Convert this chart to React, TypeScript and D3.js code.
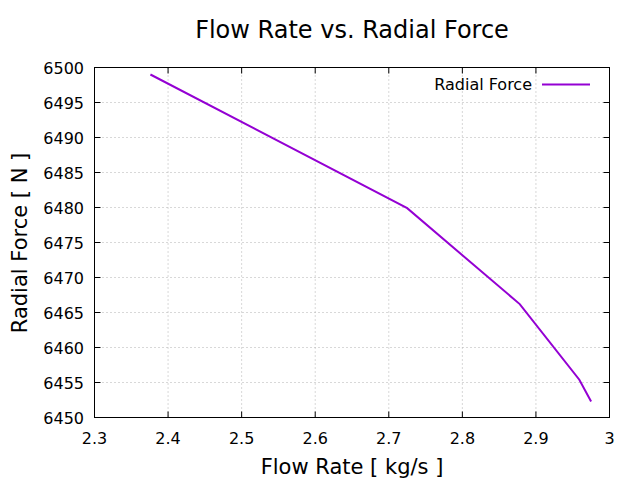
import React from "react";
import * as d3 from "d3";

const flowRate = [2.376, 2.725, 2.878, 2.959, 2.975];
const radialForce = [6499.0, 6479.9, 6466.2, 6455.4, 6452.3];
const xTicks = [2.3, 2.4, 2.5, 2.6, 2.7, 2.8, 2.9, 3];
const yTicks = [6450, 6455, 6460, 6465, 6470, 6475, 6480, 6485, 6490, 6495, 6500];

const W = 640;
const H = 480;
const left = 94.5;
const right = 609.5;
const top = 67.5;
const bottom = 417.5;
const font = "'DejaVu Sans', sans-serif";
const color = "#9400d3";

export default function App() {
  const x = d3.scaleLinear().domain([2.3, 3]).range([left, right]);
  const y = d3.scaleLinear().domain([6450, 6500]).range([bottom, top]);
  const pts = flowRate.map((v, i) => [v, radialForce[i]] as [number, number]);
  const line = d3
    .line<[number, number]>()
    .x((d) => x(d[0]))
    .y((d) => y(d[1]));
  const tick = 6;

  return (
    <svg
      width={W}
      height={H}
      style={{ position: "absolute", left: 0, top: 0, background: "#fff" }}
      fontFamily={font}
    >
      <rect width={W} height={H} fill="#fff" />
      {/* grid */}
      {xTicks.slice(1, -1).map((t) => (
        <line
          key={"gx" + t}
          x1={x(t)}
          x2={x(t)}
          y1={top}
          y2={bottom}
          stroke="#b0b0b0"
          strokeWidth={1}
          strokeDasharray="1,3"
        />
      ))}
      {yTicks.slice(1, -1).map((t) => (
        <line
          key={"gy" + t}
          x1={left}
          x2={right}
          y1={y(t)}
          y2={y(t)}
          stroke="#b0b0b0"
          strokeWidth={1}
          strokeDasharray="1,3"
        />
      ))}
      {/* ticks */}
      {xTicks.map((t) => (
        <g key={"tx" + t}>
          <line x1={x(t)} x2={x(t)} y1={bottom} y2={bottom - tick} stroke="#000" />
          <line x1={x(t)} x2={x(t)} y1={top} y2={top + tick} stroke="#000" />
          <text x={x(t)} y={444} fontSize={16} textAnchor="middle">
            {d3.format("")(t)}
          </text>
        </g>
      ))}
      {yTicks.map((t) => (
        <g key={"ty" + t}>
          <line x1={left} x2={left + tick} y1={y(t)} y2={y(t)} stroke="#000" />
          <line x1={right} x2={right - tick} y1={y(t)} y2={y(t)} stroke="#000" />
          <text x={84} y={y(t) + 6} fontSize={16} textAnchor="end">
            {t}
          </text>
        </g>
      ))}
      <rect
        x={left}
        y={top}
        width={right - left}
        height={bottom - top}
        fill="none"
        stroke="#000"
        strokeWidth={1}
      />
      {/* series */}
      <path d={line(pts) ?? ""} fill="none" stroke={color} strokeWidth={2} />
      {/* legend */}
      <text x={532} y={90} fontSize={16} textAnchor="end">
        Radial Force
      </text>
      <line x1={542} x2={590} y1={84.5} y2={84.5} stroke={color} strokeWidth={2} />
      {/* titles */}
      <text x={352} y={38} fontSize={24} textAnchor="middle">
        Flow Rate vs. Radial Force
      </text>
      <text x={352} y={474} fontSize={21} textAnchor="middle">
        Flow Rate [ kg/s ]
      </text>
      <text
        transform={`translate(27,243) rotate(-90)`}
        fontSize={21}
        textAnchor="middle"
      >
        Radial Force [ N ]
      </text>
    </svg>
  );
}
